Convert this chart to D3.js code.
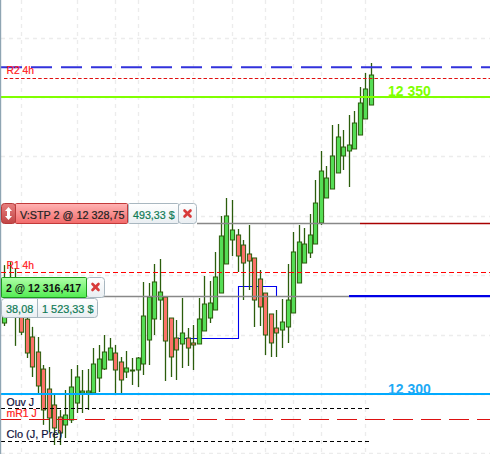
<!DOCTYPE html>
<html><head><meta charset="utf-8">
<style>html,body{margin:0;padding:0;background:#fff}svg{display:block}text{font-family:"Liberation Sans",Arial,sans-serif}</style>
<script src="https://cdn.jsdelivr.net/npm/d3@7/dist/d3.min.js"></script>
</head><body>
<script>
const opens=[12311.95,12313.3,12313.1,12315.8,12312.6,12309.6,12307.07,12304.2,12300.84,12298.15,12296.13,12294.78,12295.62,12298.48,12300.17,12300.17,12300.17,12302.69,12304.21,12305.72,12306.9,12305.39,12303.7,12303.87,12304.04,12305.05,12309.09,12312.63,12315.82,12316.33,12312.79,12309.43,12308.42,12309.43,12308.59,12308.42,12310.61,12312.79,12314.14,12317,12321.89,12325.93,12326.77,12325.08,12323.57,12322.9,12319.36,12317,12313.47,12311.11,12310.77,12311.28,12313.64,12318.69,12322.05,12323.74,12325.25,12328.79,12333,12334.51,12337.21,12340.07,12340.91,12341.25,12343.6,12346.3,12348.65];
const closes=[12315.8,12317.5,12316.7,12310.4,12306.9,12304.55,12301.35,12297.31,12295.96,12294.28,12293.43,12296.46,12301.18,12302.86,12300.5,12300.5,12305.05,12305.89,12307.07,12307.74,12304.04,12302.36,12304.38,12304.04,12306.06,12313.13,12316.33,12318.86,12317.17,12308.92,12306.23,12307.41,12310.27,12307.74,12308.25,12312.63,12315.15,12315.32,12319.7,12326.6,12329.97,12327.61,12323.23,12322.05,12322.39,12315.82,12314.65,12309.93,12308.59,12310.27,12312.12,12315.82,12323.91,12325.59,12325.25,12326.77,12332.15,12337.54,12336.36,12340.07,12343.27,12341.58,12341.92,12345.62,12348.99,12351.35,12353.7];
const highs=[12321.7,12322.2,12321.2,12317.5,12315.8,12311.3,12309.6,12304.88,12304.55,12300.17,12297.31,12300.67,12304.21,12304.88,12304.04,12304.21,12307.74,12308.25,12309.93,12309.43,12308.25,12306.23,12307.24,12306.06,12306.23,12318.86,12318.69,12321.89,12322.73,12316.33,12312.79,12312.46,12316.16,12311.11,12311.62,12316.16,12319.87,12319.02,12323.91,12329.97,12333,12332.66,12327.78,12325.93,12328.45,12322.9,12320.88,12317,12313.47,12314.14,12315.99,12321.89,12327.27,12328.45,12327.95,12330.3,12336.03,12340.91,12338.38,12345.29,12345.45,12344.44,12346.97,12347.64,12351.68,12354.04,12355.72];
const lows=[12311.45,12312.8,12308.1,12309.9,12306.06,12302.86,12300.17,12294.8,12293.6,12291.41,12291.41,12292.59,12295.12,12296.8,12296.8,12297.31,12299.83,12300.34,12304.04,12305.72,12300.17,12300.17,12302.69,12301.52,12301.18,12303.2,12304.88,12309.93,12312.46,12302.19,12302.86,12302.36,12304.38,12304.71,12304.04,12308.42,12310.61,12311.95,12314.14,12317,12321.89,12323.23,12320.54,12315.82,12317.51,12311.28,12311.45,12306.57,12306.23,12306.23,12307.74,12308.59,12313.64,12318.69,12322.05,12322.9,12325.25,12328.45,12333,12334.51,12337.21,12337.71,12334.85,12341.25,12343.6,12346.3,12348.65];

const gridPrices=[12290,12300,12310,12320,12330,12340,12350,12360];
const gridBars=[3,13,20,24,34,41,47,52,57,65];
const stepIdx=[31.3,42,42,49,49];
const stepPrices=[12309.4,12309.4,12318.1,12318.1,12316.417];

const levelR2=12355, levelR2b=12353.28, levelUp=12350, levelStop=12328.75, levelR1=12320.49,
      levelEntry=12316.417, levelDown=12300, levelOuv=12297.58, levelMR1=12295.74, levelClo=12292.04;
const upLabel="12 350", downLabel="12 300";

const W=490,H=454;
const y=d3.scaleLinear().domain([12300,12350]).range([394,97]);
const x=d3.scaleLinear().domain([0,66]).range([4.8,371.4]);
const px=i=>Math.floor(x(i))+0.5;
const py=v=>Math.round(y(v))+0.5;

const svg=d3.select("body").append("svg").attr("width",W).attr("height",H);
const defs=svg.append("defs");
function grad(id,a,b){const g=defs.append("linearGradient").attr("id",id).attr("x1",0).attr("y1",0).attr("x2",0).attr("y2",1);
 g.append("stop").attr("offset",0).attr("stop-color",a);g.append("stop").attr("offset",1).attr("stop-color",b);}
grad("gRed","#ffb4b4","#f26a6a");grad("gDark","#e88080","#c04545");grad("gGreen","#b0ffa8","#52ec52");grad("gWhite","#ffffff","#e9eef2");

// grid through d3 axes
const gy=svg.append("g").attr("class","gridY").attr("transform","translate(1,0)")
 .call(d3.axisRight(y).tickValues(gridPrices).tickSize(W).tickFormat(""));
const gx=svg.append("g").attr("class","gridX")
 .call(d3.axisBottom(d3.scaleLinear().domain(x.domain()).range(x.range())).tickValues(gridBars).tickSize(H).tickFormat(""));
gx.selectAll(".tick").attr("transform",d=>`translate(${px(d)},0)`);
gy.selectAll(".tick").attr("transform",d=>`translate(0,${Math.round(y(d))+0.5})`);
svg.selectAll(".gridX .domain,.gridY .domain").remove();
svg.selectAll(".gridX line,.gridY line").attr("stroke","#ececec").attr("stroke-width",1.3).attr("stroke-dasharray","4,4");

// blue step line
svg.append("path").attr("fill","none").attr("stroke","#0000ee").attr("stroke-width",1.1)
 .attr("d",d3.line().x(d=>Math.floor(x(d[0]))+0.5).y(d=>py(d[1]))(stepIdx.map((d,i)=>[d,stepPrices[i]])));

// candles
const idx=d3.range(opens.length);
svg.append("g").selectAll("line").data(idx).join("line")
 .attr("x1",px).attr("x2",px).attr("y1",i=>y(highs[i])).attr("y2",i=>y(lows[i]))
 .attr("stroke","#2b5d0c").attr("stroke-width",1.3);
svg.append("g").selectAll("rect").data(idx).join("rect")
 .attr("x",i=>px(i)-2.1).attr("width",4.2)
 .attr("y",i=>y(Math.max(opens[i],closes[i])))
 .attr("height",i=>Math.max(1,Math.abs(y(opens[i])-y(closes[i]))))
 .attr("fill",i=>closes[i]>=opens[i]?"#55dd55":"#fb7268")
 .attr("stroke","#2b5d0c").attr("stroke-width",1);

// levels
function hline(v,x1,x2,color,w,dash,snap){
 const yy=snap===false?y(v):py(v);
 const l=svg.append("line").attr("x1",x1).attr("x2",x2).attr("y1",yy).attr("y2",yy).attr("stroke",color).attr("stroke-width",w);
 if(dash)l.attr("stroke-dasharray",dash);
}
hline(levelR2,1,W,"#3232dc",2,"21,9",false);
hline(levelR2b,4,W,"#e01010",1,"3.5,2.2");
hline(levelUp,1,W,"#80ff00",2,null,false);
hline(levelStop,197,360,"#888",1.3);
hline(levelStop,360,W,"#a80000",1.4);
hline(levelR1,1,W,"#ff0000",1.2,"5,3");
hline(levelEntry,1,349,"#888",1.3);
svg.append("line").attr("x1",349).attr("x2",W).attr("y1",y(levelEntry)-0.3).attr("y2",y(levelEntry)-0.3).attr("stroke","#0000e6").attr("stroke-width",2.2);
hline(levelDown,1,W,"#00aaff",2,null,false);
hline(levelOuv,1,371,"#000",1,"4,3");
hline(levelMR1,1,W,"#dd1111",1,"20,8");
hline(levelClo,1,371,"#000",1,"4,3");

// left border
svg.append("rect").attr("x",0).attr("y",0).attr("width",1.2).attr("height",H).attr("fill","#8fa5b3");

function txt(s,xx,yy,size,color,bold,thick){
 return svg.append("text").attr("x",xx).attr("y",yy).attr("font-size",size).attr("fill",color)
  .attr("stroke",color).attr("stroke-width",thick===undefined?0.2:thick)
  .attr("font-weight",bold?"bold":"normal").text(s);
}
txt(upLabel,388,96,14,"#80ff00",true,0);
txt(downLabel,388,393.5,14,"#1eaaf5",true,0);
txt("R2 4h",6.5,74,10.3,"#ff2020");
txt("R1 4h",6.5,269,10.3,"#ff2020");
txt("Ouv J",6.5,405.5,10.5,"#10103a");
txt("mR1 J",6.5,416.5,10.5,"#ff2020");
txt("Clo (J, Pré)",6.5,438,11,"#10103a");

function box(xx,yy,w,h,fill,stroke,r){
 svg.append("rect").attr("x",xx+.5).attr("y",yy+.5).attr("width",w-1).attr("height",h-1).attr("rx",r||2).attr("fill",fill).attr("stroke",stroke);
}
function cross(cx,cy){
 const g=svg.append("g").attr("stroke","#d83a3a").attr("stroke-width",2.6).attr("stroke-linecap","round");
 g.append("line").attr("x1",cx-3).attr("x2",cx+3).attr("y1",cy-3).attr("y2",cy+3);
 g.append("line").attr("x1",cx-3).attr("x2",cx+3).attr("y1",cy+3).attr("y2",cy-3);
}
// sell stop tag
box(178,203,19,21,"url(#gWhite)","#a9b7c0",3);
box(128,203,51,21,"url(#gWhite)","#a9b7c0",1);
box(15,203,113,21,"url(#gRed)","#c23a3a",1);
box(1,203,15,21,"url(#gDark)","#b83a3a",3);
svg.append("path").attr("d","M8.5 207 L12 211 L10 211 L10 216 L12 216 L8.5 220 L5 216 L7 216 L7 211 L5 211 Z").attr("fill","#fff");
txt("V:STP  2 @ 12 328,75",20,219,10.8,"#222");
txt("493,33 $",133,219,10.7,"#0f7a55");
cross(187.5,213.5);
// position tag
box(1,298,97,20,"url(#gWhite)","#a9b7c0",3);
svg.append("line").attr("x1",37.5).attr("x2",37.5).attr("y1",298).attr("y2",317).attr("stroke","#a9b7c0");
box(86,277,19,21,"url(#gWhite)","#a9b7c0",3);
box(1,277,86,21,"url(#gGreen)","#1d9a1d",1);
txt("2 @ 12 316,417",6,292,10.6,"#111",true,0);
cross(95.5,287);
txt("38,08",6,312.5,10.9,"#0f7a55");
txt("1 523,33 $",42,312.5,10.9,"#0f7a55");
</script>
</body></html>
